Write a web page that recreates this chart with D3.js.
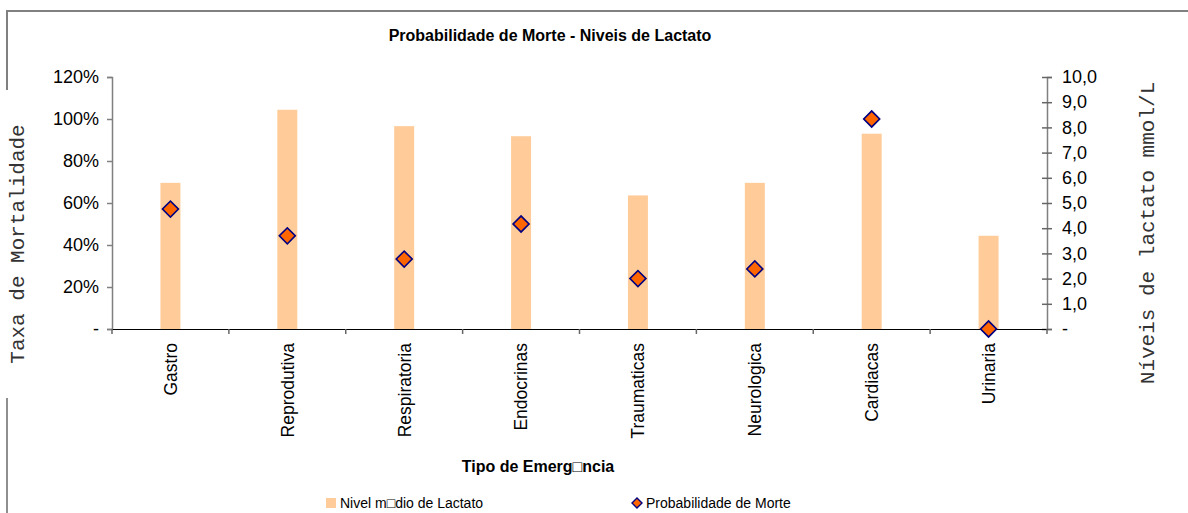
<!DOCTYPE html>
<html>
<head>
<meta charset="utf-8">
<script src="https://cdn.jsdelivr.net/npm/d3@7"></script>
<style>
  body { margin: 0; background: #fff; }
  text { font-family: "Liberation Sans", Arial, sans-serif; }
  .mono { font-family: "Liberation Mono", "Courier New", monospace; }
</style>
</head>
<body>
<svg id="chart" width="1188" height="513"></svg>
<script>
const categories = ["Gastro", "Reprodutiva", "Respiratoria", "Endocrinas", "Traumaticas", "Neurologica", "Cardiacas", "Urinaria"];
const lactato = [5.8, 8.7, 8.05, 7.65, 5.3, 5.8, 7.75, 3.7];
const mortalidade = [0.571, 0.444, 0.333, 0.5, 0.24, 0.286, 1.0, 0];
const leftTicks = [0, 0.2, 0.4, 0.6, 0.8, 1.0, 1.2];
const rightTicks = [0, 1, 2, 3, 4, 5, 6, 7, 8, 9, 10];

const svg = d3.select("#chart");
const plot = { left: 112, right: 1047, top: 77, bottom: 329 };

const x = d3.scaleBand().domain(categories).range([plot.left, plot.right]);
const yL = d3.scaleLinear().domain([0, 1.2]).range([plot.bottom, plot.top]);
const yR = d3.scaleLinear().domain([0, 10]).range([plot.bottom, plot.top]);

// outer chart border (partial, as in the original)
const border = svg.append("g").attr("stroke", "#808080").attr("stroke-width", 2).attr("fill", "none");
border.append("path").attr("d", "M7,90 V11 H1188");
border.append("path").attr("d", "M7,398 V513").attr("stroke", "#444").attr("stroke-width", 1.2);

// title
svg.append("text")
  .attr("x", 550).attr("y", 41)
  .attr("text-anchor", "middle")
  .attr("font-size", 16).attr("font-weight", "bold")
  .text("Probabilidade de Morte - Niveis de Lactato");

// bars
const barW = 20;
svg.selectAll("rect.bar")
  .data(categories)
  .enter()
  .append("rect")
  .attr("class", "bar")
  .attr("x", (d) => x(d) + x.bandwidth() / 2 - barW / 2)
  .attr("y", (d, i) => yR(lactato[i]))
  .attr("width", barW)
  .attr("height", (d, i) => plot.bottom - yR(lactato[i]))
  .attr("fill", "#FFCC99");

// left axis
const leftAxis = svg.append("g")
  .attr("transform", `translate(${plot.left},0)`)
  .call(d3.axisLeft(yL).tickValues(leftTicks).tickSize(5).tickPadding(8)
    .tickFormat(d => d === 0 ? "-" : Math.round(d * 100) + "%"));
leftAxis.select(".domain").attr("stroke", "#808080").attr("stroke-width", 1.5);
leftAxis.selectAll(".tick line").attr("stroke", "#808080").attr("stroke-width", 1.5);
leftAxis.selectAll(".tick text").attr("font-size", 18).attr("font-family", "Liberation Sans, Arial, sans-serif").attr("fill", "#000");

// right axis
const rightAxis = svg.append("g")
  .attr("transform", `translate(${plot.right},0)`)
  .call(d3.axisRight(yR).tickValues(rightTicks).tickSize(5).tickPadding(10)
    .tickFormat(d => d === 0 ? "-" : d3.format(".1f")(d).replace(".", ",")));
rightAxis.select(".domain").attr("stroke", "#808080").attr("stroke-width", 1.5);
rightAxis.selectAll(".tick line").attr("x1", -5).attr("stroke", "#666").attr("stroke-width", 1.5);
rightAxis.selectAll(".tick text").attr("font-size", 18).attr("font-family", "Liberation Sans, Arial, sans-serif").attr("fill", "#000");

// x axis
const xAxis = svg.append("g")
  .attr("transform", `translate(0,${plot.bottom})`)
  .call(d3.axisBottom(x).tickSize(0).tickPadding(0));
xAxis.select(".domain").attr("stroke", "#000").attr("stroke-width", 1.2);
xAxis.selectAll(".tick text")
  .attr("font-size", 17.5).attr("font-family", "Liberation Sans, Arial, sans-serif").attr("fill", "#000")
  .attr("text-anchor", "end")
  .attr("transform", "rotate(-90)")
  .attr("x", -14).attr("y", 0).attr("dy", "0.36em");
// category separators
svg.append("g").selectAll("line")
  .data(categories.concat([null]))
  .enter()
  .append("line")
  .attr("x1", (d, i) => i < categories.length ? x(d) : plot.right)
  .attr("x2", (d, i) => i < categories.length ? x(d) : plot.right)
  .attr("y1", plot.bottom).attr("y2", plot.bottom + 5)
  .attr("stroke", "#666").attr("stroke-width", 1.5);

// diamonds
const diamond = d3.symbol().type(d3.symbolSquare).size(128);
svg.selectAll("path.pt")
  .data(categories)
  .enter()
  .append("path")
  .attr("class", "pt")
  .attr("d", diamond)
  .attr("transform", (d, i) => `translate(${x(d) + x.bandwidth() / 2},${yL(mortalidade[i])}) rotate(45)`)
  .attr("fill", "#FF6600")
  .attr("stroke", "#000080")
  .attr("stroke-width", 1.6);

// axis titles
svg.append("text")
  .attr("class", "mono")
  .attr("transform", "translate(24,244) rotate(-90)")
  .attr("text-anchor", "middle")
  .attr("font-size", 21).attr("fill", "#333")
  .text("Taxa de Mortalidade");

svg.append("text")
  .attr("class", "mono")
  .attr("transform", "translate(1154,233) rotate(-90)")
  .attr("text-anchor", "middle")
  .attr("font-size", 21).attr("fill", "#333")
  .text("Níveis de lactato mmol/L");

svg.append("text")
  .attr("x", 538).attr("y", 472)
  .attr("text-anchor", "middle")
  .attr("font-size", 16).attr("font-weight", "bold")
  .text("Tipo de Emerg\u25A1ncia");

// legend
const legend = svg.append("g");
legend.append("rect")
  .attr("x", 326).attr("y", 498).attr("width", 10).attr("height", 10)
  .attr("fill", "#FFCC99");
legend.append("text")
  .attr("x", 340).attr("y", 508)
  .attr("font-size", 14)
  .text("Nivel m\u25A1dio de Lactato");
legend.append("path")
  .attr("d", d3.symbol().type(d3.symbolSquare).size(50))
  .attr("transform", "translate(637,503) rotate(45)")
  .attr("fill", "#FF6600").attr("stroke", "#000080").attr("stroke-width", 1.4);
legend.append("text")
  .attr("x", 646).attr("y", 508)
  .attr("font-size", 14)
  .text("Probabilidade de Morte");
</script>
</body>
</html>
